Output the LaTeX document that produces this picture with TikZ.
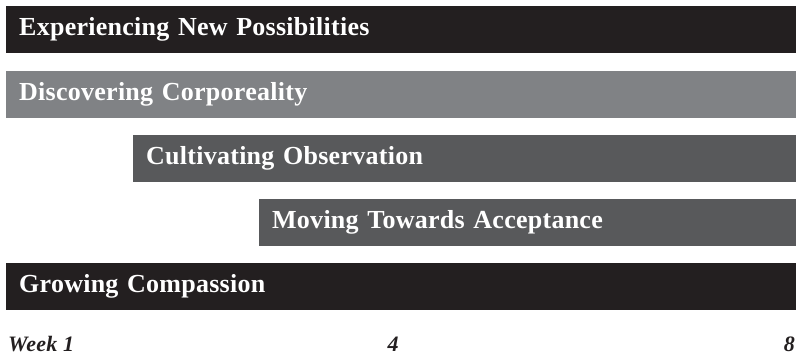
\documentclass[tikz,border=0pt]{standalone}
\usepackage{fontspec}
\setmainfont{Liberation Serif}
\newfontfamily\barfont[LetterSpace=1]{Liberation Serif}
\usetikzlibrary{positioning}
\definecolor{barblack}{HTML}{231F20}
\definecolor{barlight}{HTML}{808285}
\definecolor{bardark}{HTML}{58595B}
\tikzset{
  phase/.style={anchor=south west, minimum height=47pt, inner xsep=13pt, inner ysep=0pt,
    align=left, text=white, font=\barfont\fontsize{26}{30}\selectfont\bfseries},
  weeklabel/.style={anchor=base, inner sep=0pt, text=barblack,
    font=\barfont\fontsize{22}{26}\selectfont\bfseries\itshape}
}
\begin{document}
\begin{tikzpicture}
\useasboundingbox (0,0) rectangle (796pt,357pt);
\node[phase, fill=barblack, text width=764pt] (possib) at (6pt,304pt) {Experiencing New Possibilities};
\node[phase, fill=barlight, text width=764pt] (corpo) at (6pt,239pt) {Discovering Corporeality};
\node[phase, fill=bardark, text width=637pt] (observ) at (133pt,175pt) {Cultivating Observation};
\node[phase, fill=bardark, text width=511pt] (accept) at (259pt,111pt) {Moving Towards Acceptance};
\node[phase, fill=barblack, text width=764pt] (compas) at (6pt,47pt) {Growing Compassion};
%
\node[weeklabel, anchor=base west] (wk1) at (8pt,6pt) {Week 1};
\node[weeklabel] (wk4) at (393pt,6pt) {4};
\node[weeklabel, anchor=base east] (wk8) at (795pt,6pt) {8};
\end{tikzpicture}
\end{document}
